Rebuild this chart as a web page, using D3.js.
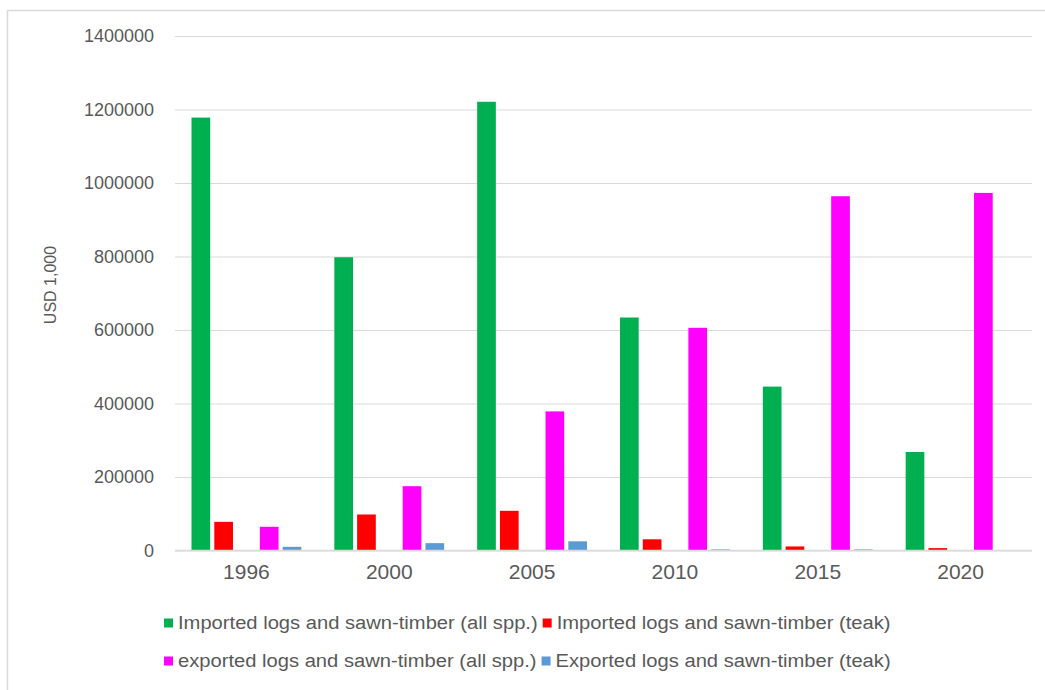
<!DOCTYPE html>
<html>
<head>
<meta charset="utf-8">
<script src="https://cdn.jsdelivr.net/npm/d3@7"></script>
<style>
  html, body { margin: 0; padding: 0; background: #fff; }
  svg { display: block; font-family: "Liberation Sans", Arial, sans-serif; }
</style>
</head>
<body>
<svg id="chart" width="1045" height="690"></svg>
<script>
const years = ["1996", "2000", "2005", "2010", "2015", "2020"];
const importedAll = [1178000, 798000, 1221000, 634000, 446000, 268000];
const importedTeak = [78000, 98000, 108000, 30500, 11000, 6500];
const exportedAll = [64500, 175000, 378500, 606000, 964000, 973000];
const exportedTeak = [10000, 20000, 25000, 3000, 3000, 0];
const seriesNames = [
  "Imported logs and sawn-timber (all spp.)",
  "Imported logs and sawn-timber (teak)",
  "exported logs and sawn-timber (all spp.)",
  "Exported logs and sawn-timber (teak)"
];
const seriesColors = ["#00B050", "#FF0000", "#FF00FF", "#5B9BD5"];
const yTicks = [0, 200000, 400000, 600000, 800000, 1000000, 1200000, 1400000];
const yTitle = "USD 1,000";

const seriesValues = [importedAll, importedTeak, exportedAll, exportedTeak];
// slot keys: an empty (hidden) slot sits between the imported and exported series
const slotKeys = ["s0", "s1", "gap", "s2", "s3"];
const seriesSlot = ["s0", "s1", "s2", "s3"];

const svg = d3.select("#chart");
const textColor = "#595959";
const gridColor = "#d9d9d9";

// outer frame (left and top edges visible)
svg.append("line").attr("x1", 7.5).attr("x2", 7.5).attr("y1", 10).attr("y2", 690)
  .attr("stroke", gridColor).attr("stroke-width", 1.5);
svg.append("line").attr("x1", 7).attr("x2", 1045).attr("y1", 10.5).attr("y2", 10.5)
  .attr("stroke", gridColor).attr("stroke-width", 1.5);

const plot = { left: 175, right: 1032, top: 36, bottom: 550.5 };

const y = d3.scaleLinear().domain([0, 1400000]).range([plot.bottom, plot.top]);
const x0 = d3.scaleBand().domain(years).range([plot.left, plot.right]).padding(0);
const x1 = d3.scaleBand().domain(slotKeys)
  .range([16.5, x0.bandwidth() - 16.5]).paddingInner(0.18).paddingOuter(0);

// gridlines
const yAxis = d3.axisLeft(y).tickValues(yTicks).tickSize(-(plot.right - plot.left)).tickPadding(20)
  .tickFormat(d3.format("d"));
const gy = svg.append("g").attr("transform", `translate(${plot.left},0)`).call(yAxis);
gy.select(".domain").remove();
gy.selectAll(".tick line").attr("stroke", gridColor).attr("stroke-width", 1.2);
gy.selectAll(".tick text").attr("fill", textColor).attr("font-size", 18)
  .attr("font-family", "Liberation Sans, Arial, sans-serif").attr("x", -21);

// bars
years.forEach((yr, i) => {
  const g = svg.append("g").attr("transform", `translate(${x0(yr)},0)`);
  seriesValues.forEach((vals, s) => {
    const v = vals[i];
    g.append("rect")
      .attr("x", x1(seriesSlot[s]))
      .attr("width", x1.bandwidth())
      .attr("y", y(v))
      .attr("height", y(0) - y(v))
      .attr("fill", seriesColors[s]);
  });
});

// baseline
svg.append("line").attr("x1", plot.left).attr("x2", plot.right)
  .attr("y1", y(0)).attr("y2", y(0)).attr("stroke", gridColor).attr("stroke-width", 1.5);

// x axis labels
const xAxis = d3.axisBottom(x0).tickSize(0).tickPadding(14);
const gx = svg.append("g").attr("transform", `translate(0,${plot.bottom})`).call(xAxis);
gx.select(".domain").remove();
gx.selectAll(".tick text").attr("fill", textColor).attr("font-size", 21)
  .attr("font-family", "Liberation Sans, Arial, sans-serif");

// y title
svg.append("text")
  .attr("transform", "translate(56,285) rotate(-90)")
  .attr("text-anchor", "middle")
  .attr("fill", textColor).attr("font-size", 16)
  .text(yTitle);

// legend (two rows); text is drawn slightly wide, like the reference
const legendRows = [[0, 1], [2, 3]];
const rowY = [623, 661];
legendRows.forEach((row, r) => {
  let cx = 164;
  row.forEach(s => {
    svg.append("rect").attr("x", cx).attr("y", rowY[r] - 4.5).attr("width", 9).attr("height", 9)
      .attr("fill", seriesColors[s]);
    const t = svg.append("text").attr("x", cx + 14).attr("y", rowY[r] + 6)
      .attr("fill", textColor).attr("font-size", 18).text(seriesNames[s]);
    const w = t.node().getComputedTextLength() * 1.12;
    t.attr("textLength", w).attr("lengthAdjust", "spacingAndGlyphs");
    cx += 14 + w + 5;
  });
});
</script>
</body>
</html>
